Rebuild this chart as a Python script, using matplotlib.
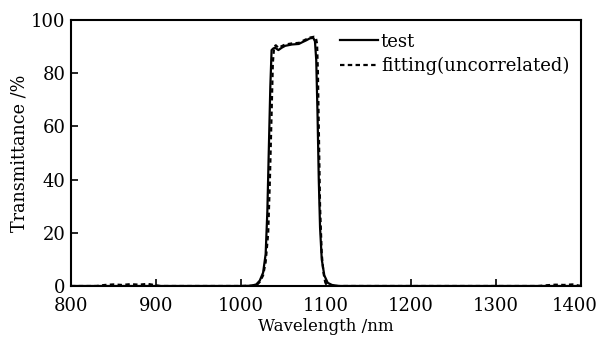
import matplotlib
matplotlib.use("Agg")
import matplotlib.pyplot as plt
from matplotlib.transforms import ScaledTranslation

wl_test = [800, 1000, 1012, 1018, 1022, 1026, 1029, 1031, 1033, 1034.5, 1036, 1038,
           1040, 1044, 1048, 1052, 1060, 1068, 1073, 1077, 1081, 1085, 1087, 1088.5,
           1090, 1091.5, 1093, 1095, 1098, 1102, 1107, 1115, 1400]
t_test = [0, 0, 0.1, 0.6, 2, 5, 12, 28, 55, 75, 88.7, 89.3,
          89.6, 88.7, 89.6, 90.3, 90.8, 91, 91.8, 92.4, 93.1, 93.3, 92, 85,
          65, 40, 22, 10, 4, 1.2, 0.4, 0, 0]

# fitted curve (uncorrelated)
wl_fit = [800, 830, 840, 850, 860, 870, 880, 890, 898, 905, 1000, 1018, 1022, 1026,
          1029, 1032, 1034, 1036, 1037.5, 1039, 1041, 1044, 1048, 1052, 1060, 1068,
          1073, 1077, 1081, 1086, 1088, 1089.5, 1090.5, 1091.5, 1093, 1095, 1097,
          1099, 1101, 1110, 1350, 1360, 1370, 1380, 1390, 1400]
t_fit = [0, 0, 0.4, 0.6, 0.4, 0.7, 0.5, 0.8, 0.4, 0, 0, 0.2, 1.5, 4,
         9, 20, 40, 65, 84, 90, 90.5, 89.5, 90.2, 90.8, 91.2, 91.4,
         92.2, 92.8, 93.4, 93.7, 93.5, 91, 80, 60, 30, 12, 5,
         1.5, 0, 0, 0, 0.3, 0.5, 0.4, 0.6, 0]

x_ticks = [800, 900, 1000, 1100, 1200, 1300, 1400]
y_ticks = [0, 20, 40, 60, 80, 100]

plt.rcParams['font.family'] = ['DejaVu Serif']
plt.rcParams['font.size'] = 13

fig = plt.figure(figsize=(5.99, 3.42), dpi=100)
ax = fig.add_axes([0.1185, 0.1637, 0.8515, 0.7778])

ax.plot(wl_test, t_test, color='black', linewidth=1.6, label='test')
ax.plot(wl_fit, t_fit, color='black', linewidth=1.6, linestyle=(0, (2, 1.5)),
        label='fitting(uncorrelated)')

ax.set_xlim(800, 1400)
ax.set_ylim(0, 100)
ax.set_xticks(x_ticks)
ax.set_yticks(y_ticks)
ax.tick_params(direction='in', length=5, width=1.2, top=False, right=False)
ax.tick_params(axis='x', pad=8)
ax.tick_params(axis='y', pad=4)
for s in ax.spines.values():
    s.set_linewidth(1.5)

# last x label sits a bit left in the original
lab = ax.get_xticklabels()[-1]
lab.set_transform(lab.get_transform() + ScaledTranslation(-6 / 100, 0, fig.dpi_scale_trans))

ax.set_xlabel('Wavelength /nm', fontsize=12, labelpad=2)
ax.set_ylabel('Transmittance /%', fontsize=12.7, labelpad=2)

ax.legend(loc='upper left', bbox_to_anchor=(0.503, 1.0), frameon=False,
          handlelength=2.1, handletextpad=0.15, labelspacing=0.33,
          borderaxespad=0.3)

fig.savefig('out.png', dpi=100)
